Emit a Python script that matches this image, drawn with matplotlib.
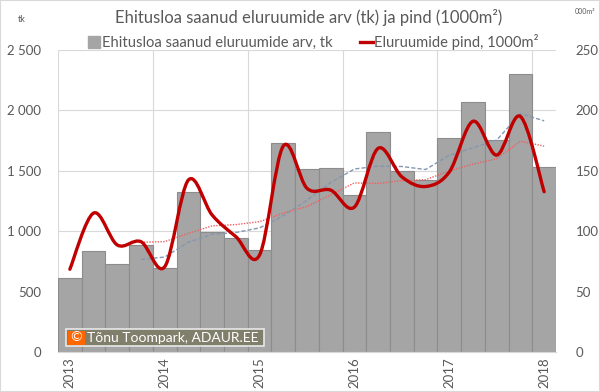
import numpy as np
import pandas as pd
import matplotlib
matplotlib.use("Agg")
import matplotlib.pyplot as plt
from matplotlib.patches import Patch, Rectangle
from matplotlib.lines import Line2D
from matplotlib.path import Path
from matplotlib.patches import PathPatch
from matplotlib.ticker import FuncFormatter

# ─────────────────────────────────────────────
# Data (quarterly, 2013 Q1 … 2018 Q1)
# ─────────────────────────────────────────────

QUARTERS = ['2013', '', '', '', '2014', '', '', '', '2015', '', '', '',
            '2016', '', '', '', '2017', '', '', '', '2018']
DWELLINGS = [615, 836, 728, 886, 695, 1327, 991, 944, 847, 1728, 1512,
             1523, 1297, 1824, 1498, 1424, 1769, 2070, 1755, 2299, 1531]
AREA = [68.5, 115, 88.6, 91.3, 70.6, 142.4, 113.4, 95.5, 80.3, 170.5, 135.5,
        134, 120, 168.6, 145, 137, 149, 191, 163, 195, 132.7]

MA_WINDOW = 4   # Excel moving-average trendline, 4 periods

BAR_COLOR  = "#A5A5A5"
BAR_EDGE   = "#8C8C8C"
LINE_COLOR = "#C00000"
MA_BLUE    = "#8497B0"
MA_RED     = "#F06060"
TEXT_COLOR = "#595959"
GRID_COLOR = "#D9D9D9"

plt.rcParams['font.family'] = ['Lato', 'DejaVu Sans']


def smooth_path(x, y, tension=1 / 6):
    """Excel-like smoothed line: Catmull-Rom as cubic Bezier segments."""
    x = np.asarray(x, float)
    y = np.asarray(y, float)
    verts = [(x[0], y[0])]
    codes = [Path.MOVETO]
    n = len(x)
    for i in range(n - 1):
        p0 = i - 1 if i > 0 else i
        p3 = i + 2 if i + 2 < n else i + 1
        c1 = (x[i] + (x[i + 1] - x[p0]) * tension,
              y[i] + (y[i + 1] - y[p0]) * tension)
        c2 = (x[i + 1] - (x[p3] - x[i]) * tension,
              y[i + 1] - (y[p3] - y[i]) * tension)
        verts += [c1, c2, (x[i + 1], y[i + 1])]
        codes += [Path.CURVE4] * 3
    return Path(verts, codes)


fig = plt.figure(figsize=(6, 3.92), dpi=100, facecolor='white')
ax = fig.add_axes([58 / 600, 1 - 352 / 392, 498 / 600, 302 / 392])
ax2 = ax.twinx()

x = np.arange(len(DWELLINGS))

ax.bar(x, DWELLINGS, width=1.0, color=BAR_COLOR, edgecolor=BAR_EDGE,
       linewidth=0.8, zorder=2)
ax.plot(x, pd.Series(DWELLINGS).rolling(MA_WINDOW).mean(),
        color=MA_BLUE, linestyle=(0, (3, 1.5)), linewidth=1.0, zorder=3)

ax.set_xlim(-0.5, len(x) - 0.5)
ax.set_ylim(0, 2500)
ax.set_yticks(np.arange(0, 2501, 500))
ax.yaxis.set_major_formatter(FuncFormatter(lambda v, p: f"{int(v):,}".replace(",", " ")))
ax.set_xticks(x)
ax.set_xticklabels(QUARTERS, rotation=90, fontsize=9.5, color=TEXT_COLOR)
ax.tick_params(axis='x', length=0, pad=4)
ax.tick_params(axis='y', length=0, pad=12, labelsize=9.5, labelcolor=TEXT_COLOR)

ax.grid(axis='y', color=GRID_COLOR, linewidth=0.8)
for xv in np.arange(-0.5, len(x), 4):
    ax.axvline(xv, color=GRID_COLOR, linewidth=0.8, zorder=0)
ax.set_axisbelow(True)

ax2.plot(x, pd.Series(AREA).rolling(MA_WINDOW).mean(),
         color=MA_RED, linestyle=(0, (1, 1)), linewidth=1.0, zorder=3)
ax2.add_patch(PathPatch(smooth_path(x, AREA), facecolor='none',
                        edgecolor=LINE_COLOR, linewidth=2.4, zorder=4,
                        capstyle='round'))
ax2.set_ylim(0, 250)
ax2.set_yticks(np.arange(0, 251, 50))
ax2.tick_params(axis='y', length=0, pad=14, labelsize=9.5, labelcolor=TEXT_COLOR)

for a in (ax, ax2):
    for side in ('top', 'left', 'right'):
        a.spines[side].set_visible(False)
    a.spines['bottom'].set_color(GRID_COLOR)

# Title, axis unit labels
fig.text(0.515, 1 - 18 / 392, "Ehitusloa saanud eluruumide arv (tk) ja pind (1000m²)",
         ha='center', va='center', fontsize=12, color=TEXT_COLOR)
fig.text(22 / 600, 1 - 19 / 392, "tk", ha='center', va='center',
         fontsize=6.5, color=TEXT_COLOR)
fig.text(585 / 600, 1 - 12 / 392, "000m²", ha='center', va='center',
         fontsize=5, color=TEXT_COLOR)

# Legend
handles = [Patch(facecolor=BAR_COLOR, edgecolor=BAR_COLOR),
           Line2D([0], [0], color=LINE_COLOR, linewidth=2.4)]
labels = ["Ehitusloa saanud eluruumide arv, tk", "Eluruumide pind, 1000m²"]
fig.legend(handles, labels, loc='center', bbox_to_anchor=(0.522, 1 - 42 / 392),
           ncol=2, frameon=False, fontsize=10.6, labelcolor=TEXT_COLOR,
           handlelength=0.85, handleheight=0.8, handletextpad=0.1,
           columnspacing=1.9, borderaxespad=0)

# Copyright box
fig.patches.append(Rectangle((66 / 600, 1 - 346 / 392), 198 / 600, 17 / 392,
                             transform=fig.transFigure, facecolor="#7F7F6C",
                             edgecolor="#E8E8E8", linewidth=1.2, zorder=10))
fig.patches.append(Rectangle((67.5 / 600, 1 - 344.5 / 392), 17 / 600, 14 / 392,
                             transform=fig.transFigure, facecolor="#FF6600",
                             edgecolor='none', zorder=11))
fig.text(76 / 600, 1 - 337.5 / 392, "©", ha='center', va='center',
         fontsize=10, color='white', zorder=12)
fig.text(87 / 600, 1 - 337.5 / 392, "Tõnu Toompark, ADAUR.EE", ha='left',
         va='center', fontsize=10, color='white', zorder=12)

# Outer border
fig.patches.append(Rectangle((0, 0), 1, 1, transform=fig.transFigure,
                             facecolor='none', edgecolor=GRID_COLOR,
                             linewidth=1.5))

fig.savefig("out.png", dpi=100, facecolor='white')
